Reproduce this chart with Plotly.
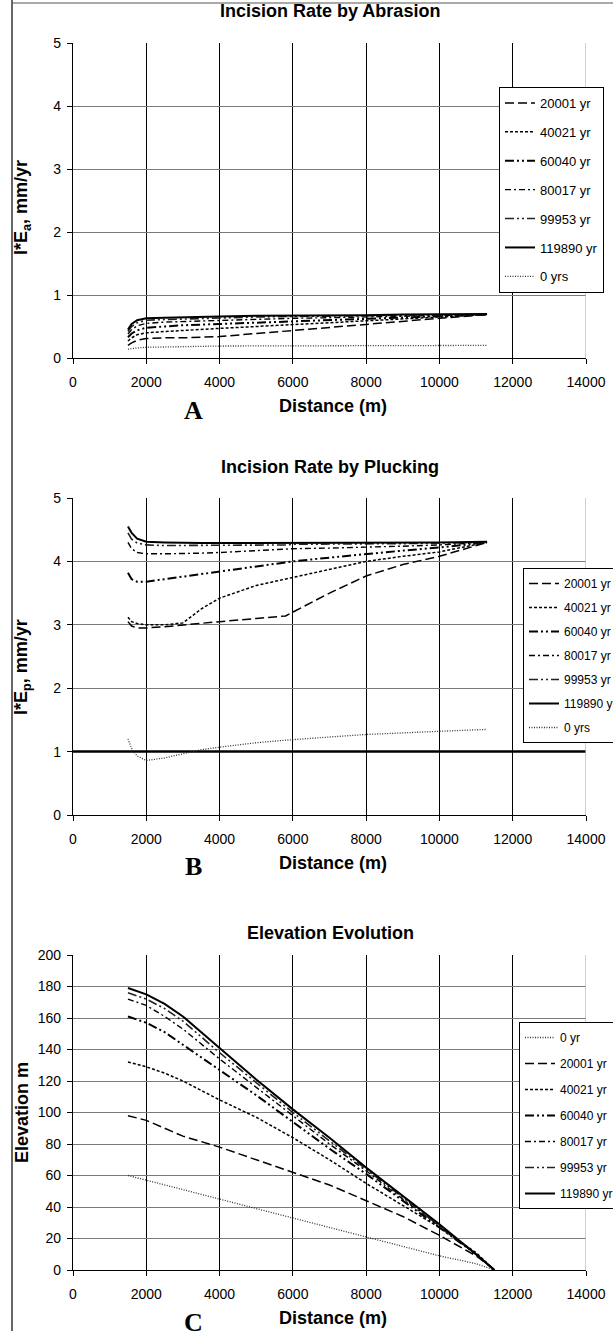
import plotly.graph_objects as go

W, H = 613, 1331

# ---------------- DATA ----------------
series_names_ab = ["20001 yr", "40021 yr", "60040 yr", "80017 yr", "99953 yr", "119890 yr", "0 yrs"]
series_names_c = ["0 yr", "20001 yr", "40021 yr", "60040 yr", "80017 yr", "99953 yr", "119890 yr"]

# Panel A: incision rate by abrasion (mm/yr)
dist_a = [1500, 1600, 1750, 2000, 2500, 3000, 4000, 5000, 6000, 7000, 8000, 9000, 10000, 11300]
a_0 = [0.14, 0.15, 0.16, 0.17, 0.18, 0.18, 0.19, 0.19, 0.19, 0.19, 0.20, 0.20, 0.20, 0.20]
a_20001 = [0.20, 0.24, 0.28, 0.31, 0.32, 0.32, 0.34, 0.39, 0.44, 0.49, 0.54, 0.58, 0.63, 0.69]
a_40021 = [0.27, 0.32, 0.37, 0.40, 0.42, 0.44, 0.47, 0.50, 0.53, 0.56, 0.59, 0.62, 0.65, 0.69]
a_60040 = [0.33, 0.39, 0.44, 0.48, 0.50, 0.52, 0.54, 0.56, 0.58, 0.60, 0.62, 0.64, 0.66, 0.69]
a_80017 = [0.38, 0.45, 0.51, 0.55, 0.57, 0.58, 0.60, 0.62, 0.63, 0.64, 0.65, 0.66, 0.67, 0.69]
a_99953 = [0.42, 0.50, 0.56, 0.60, 0.61, 0.62, 0.64, 0.65, 0.66, 0.66, 0.67, 0.68, 0.68, 0.69]
a_119890 = [0.45, 0.54, 0.60, 0.63, 0.64, 0.65, 0.66, 0.67, 0.67, 0.68, 0.68, 0.69, 0.69, 0.70]

# Panel B: incision rate by plucking (mm/yr)
dist_b = [1500, 1600, 1750, 2000, 2500, 3000, 3500, 4000, 5000, 5800, 6000, 7000, 8000, 9000, 10000, 11300]
b_0 = [1.20, 1.05, 0.93, 0.86, 0.90, 0.97, 1.03, 1.07, 1.14, 1.18, 1.19, 1.23, 1.27, 1.30, 1.32, 1.35]
b_20001 = [3.05, 2.98, 2.95, 2.95, 2.97, 3.00, 3.03, 3.05, 3.10, 3.14, 3.20, 3.50, 3.77, 3.95, 4.08, 4.30]
b_40021 = [3.12, 3.05, 3.02, 3.00, 3.00, 3.03, 3.25, 3.42, 3.62, 3.72, 3.75, 3.87, 4.00, 4.08, 4.15, 4.30]
b_60040 = [3.82, 3.72, 3.68, 3.68, 3.72, 3.76, 3.80, 3.84, 3.92, 3.98, 4.00, 4.06, 4.12, 4.17, 4.22, 4.30]
b_80017 = [4.30, 4.20, 4.14, 4.12, 4.12, 4.12, 4.13, 4.14, 4.17, 4.19, 4.20, 4.21, 4.22, 4.24, 4.26, 4.30]
b_99953 = [4.45, 4.35, 4.29, 4.26, 4.25, 4.25, 4.25, 4.25, 4.26, 4.26, 4.27, 4.27, 4.28, 4.28, 4.29, 4.30]
b_119890 = [4.55, 4.45, 4.36, 4.31, 4.30, 4.29, 4.29, 4.29, 4.29, 4.29, 4.29, 4.29, 4.30, 4.30, 4.30, 4.31]
b_threshold = 1.0

# Panel C: elevation (m)
dist_c = [1500, 2000, 2500, 3000, 4000, 5000, 6000, 7000, 8000, 9000, 10000, 11000, 11500]
c_0 = [60, 57, 54, 51, 45, 39, 33, 27, 21, 15, 9, 4, 0]
c_20001 = [98, 95, 90, 85, 78, 70, 62, 54, 44, 34, 22, 9, 0]
c_40021 = [132, 129, 125, 120, 108, 97, 84, 70, 55, 41, 27, 11, 0]
c_60040 = [161, 157, 151, 143, 127, 111, 94, 77, 61, 44, 27, 10, 0]
c_80017 = [172, 168, 161, 153, 134, 116, 98, 80, 63, 45, 28, 10, 0]
c_99953 = [176, 172, 166, 158, 138, 119, 100, 82, 64, 46, 28, 10, 0]
c_119890 = [179, 175, 169, 161, 141, 121, 102, 84, 65, 47, 29, 10, 0]

x_ticks = [0, 2000, 4000, 6000, 8000, 10000, 12000, 14000]

# ---------------- STYLES ----------------
FONT = "Liberation Sans, Arial, sans-serif"
styles = {
    "0":      dict(color="#333333", width=1.3, dash="1px,1.5px"),
    "20001":  dict(color="black", width=1.5, dash="9px,4px"),
    "40021":  dict(color="black", width=1.5, dash="3px,2px"),
    "60040":  dict(color="black", width=2.0, dash="9px,3px,2px,3px,2px,3px"),
    "80017":  dict(color="black", width=1.4, dash="6px,3px,2px,3px"),
    "99953":  dict(color="#222222", width=1.6, dash="9px,3px,2px,3px,2px,3px"),
    "119890": dict(color="black", width=2.0, dash="solid"),
}

fig = go.Figure()

def add(x, y, name, key, xa, ya, leg):
    fig.add_trace(go.Scatter(x=x, y=y, name=name, mode="lines", line=styles[key],
                             xaxis=xa, yaxis=ya, legend=leg, legendgroup=leg + name))

# Panel A
for name, key, vals in zip(series_names_ab,
                           ["20001", "40021", "60040", "80017", "99953", "119890", "0"],
                           [a_20001, a_40021, a_60040, a_80017, a_99953, a_119890, a_0]):
    add(dist_a, vals, name, key, "x", "y", "legend")

# Panel B
fig.add_trace(go.Scatter(x=[x_ticks[0], x_ticks[-1]], y=[b_threshold, b_threshold], mode="lines",
                         line=dict(color="black", width=2.5), showlegend=False,
                         xaxis="x2", yaxis="y2", hoverinfo="skip"))
for name, key, vals in zip(series_names_ab,
                           ["20001", "40021", "60040", "80017", "99953", "119890", "0"],
                           [b_20001, b_40021, b_60040, b_80017, b_99953, b_119890, b_0]):
    add(dist_b, vals, name, key, "x2", "y2", "legend2")

# Panel C
for name, key, vals in zip(series_names_c,
                           ["0", "20001", "40021", "60040", "80017", "99953", "119890"],
                           [c_0, c_20001, c_40021, c_60040, c_80017, c_99953, c_119890]):
    add(dist_c, vals, name, key, "x3", "y3", "legend3")

def py(px):
    return 1 - px / H

def pxx(px):
    return px / W

xdom = [pxx(73), pxx(586)]
panels = [  # (top px, bottom px)
    (43, 358),
    (498, 815),
    (955, 1270),
]

axis_common = dict(showline=True, linecolor="black", linewidth=1.2, ticks="outside", ticklen=5,
                   tickcolor="black", tickfont=dict(family=FONT, size=14, color="black"),
                   zeroline=False, fixedrange=True)

layout = dict(
    width=W, height=H, margin=dict(l=0, r=0, t=0, b=0, autoexpand=False),
    paper_bgcolor="white", plot_bgcolor="white",
    font=dict(family=FONT, color="black"),
)

yranges = [[0, 5], [0, 5], [0, 200]]
ydticks = [1, 1, 20]
for i, (top, bot) in enumerate(panels):
    sfx = "" if i == 0 else str(i + 1)
    layout["xaxis" + sfx] = dict(axis_common, domain=xdom, range=[0, 14000], tickvals=x_ticks,
                                 tickformat="d", anchor="y" + sfx, showgrid=True, gridcolor="black",
                                 gridwidth=1, ticklabelstandoff=6)
    layout["yaxis" + sfx] = dict(axis_common, domain=[py(bot), py(top)], range=yranges[i],
                                 dtick=ydticks[i], tickformat="d", anchor="x" + sfx, showgrid=True,
                                 gridcolor="#7a7a7a", gridwidth=1.3, ticklabelstandoff=3)

leg_common = dict(xanchor="left", yanchor="top", bordercolor="black", borderwidth=1, bgcolor="white",
                  font=dict(family=FONT, size=12, color="black"), itemwidth=30)
layout["legend"] = dict(leg_common, x=pxx(499), y=py(87), tracegroupgap=9,
                        font=dict(family=FONT, size=13, color="black"))
layout["legend2"] = dict(leg_common, x=pxx(523), y=py(568), tracegroupgap=5)
layout["legend3"] = dict(leg_common, x=pxx(519), y=py(1022), tracegroupgap=7)

fig.update_layout(**layout)

# shapes: outer frame and grey right edge of each plot area
shapes = [
    dict(type="line", xref="paper", yref="paper", x0=pxx(12), x1=pxx(12), y0=0, y1=1,
         line=dict(color="black", width=1.2)),
    dict(type="line", xref="paper", yref="paper", x0=pxx(12), x1=1, y0=py(3), y1=py(3),
         line=dict(color="#555555", width=1)),
]
for i in range(3):
    sfx = "" if i == 0 else str(i + 1)
    shapes.append(dict(type="line", xref="x" + sfx, yref="y" + sfx + " domain", x0=14000, x1=14000,
                       y0=0, y1=1, line=dict(color="#b5b5b5", width=1.3), layer="above"))
fig.update_layout(shapes=shapes)

titles = ["Incision Rate by Abrasion", "Incision Rate by Plucking", "Elevation Evolution"]
title_y = [11, 467, 933]
ytitles = ["I*E<sub>a</sub>, mm/yr", "I*E<sub>p</sub>, mm/yr", "Elevation m"]
ytitle_y = [207, 667, 1112]
xtitle_y = [406, 863, 1318]
letters = ["A", "B", "C"]
letter_y = [410, 867, 1322]

ann = []
for i in range(3):
    ann.append(dict(text="<b>%s</b>" % titles[i], x=pxx(330), y=py(title_y[i]), xref="paper", yref="paper",
                    showarrow=False, xanchor="center", yanchor="middle",
                    font=dict(family=FONT, size=18, color="black")))
    ann.append(dict(text="<b>%s</b>" % ytitles[i], x=pxx(22), y=py(ytitle_y[i]), xref="paper", yref="paper",
                    showarrow=False, xanchor="center", yanchor="middle", textangle=-90,
                    font=dict(family=FONT, size=18, color="black")))
    ann.append(dict(text="<b>Distance (m)</b>", x=pxx(333), y=py(xtitle_y[i]), xref="paper", yref="paper",
                    showarrow=False, xanchor="center", yanchor="middle",
                    font=dict(family=FONT, size=18, color="black")))
    ann.append(dict(text="<b>%s</b>" % letters[i], x=pxx(193), y=py(letter_y[i]), xref="paper", yref="paper",
                    showarrow=False, xanchor="center", yanchor="middle",
                    font=dict(family="Liberation Serif, Times New Roman, serif", size=26, color="black")))
fig.update_layout(annotations=ann)

fig.write_html("out.html")
